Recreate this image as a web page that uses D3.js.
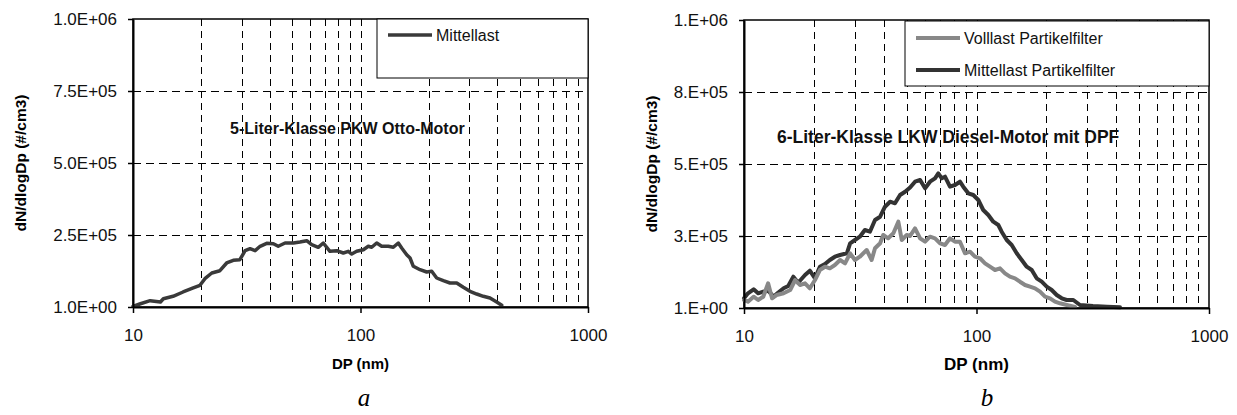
<!DOCTYPE html>
<html>
<head>
<meta charset="utf-8">
<script src="https://cdn.jsdelivr.net/npm/d3@7"></script>
<style>
  body { margin: 0; background: #fff; }
  svg { display: block; font-family: "Liberation Sans", Arial, sans-serif; }
</style>
</head>
<body>
<svg id="chart" width="1237" height="415"></svg>
<script>

    // panel a: 5-Liter PKW Otto, Mittellast (Dp in nm, dN/dlogDp in #/cm3)
    const dpA = [10.0, 10.7, 11.9, 13.2, 13.6, 15.0, 16.6, 18.4, 19.7, 20.7, 22.2, 24.1, 25.8, 27.6, 29.5,
        31.1, 32.7, 34.4, 36.2, 38.7, 41.4, 43.5, 46.6, 50.7, 54.2, 58.0, 61.0, 65.2, 68.6, 73.4, 78.6,
        84.0, 88.4, 91.5, 96.2, 102.9, 108.2, 112.0, 117.8, 123.9, 132.5, 139.4, 146.6, 151.7, 159.6,
        165.1, 170.7, 182.7, 195.4, 205.6, 216.2, 231.2, 247.4, 264.8, 283.1, 302.9, 324.2, 346.6,
        370.9, 396.9, 417.6];
    const mittellastA = [2400, 10400, 21900, 17400, 28800, 37200, 52100, 66000, 75300, 98300, 118000,
        126000, 152800, 162200, 164200, 195500, 202400, 195500, 210800, 221200, 219800, 210800, 222200,
        222200, 225700, 230200, 216300, 207300, 222200, 193400, 195500, 187500, 193400, 184000, 193400,
        199000, 210800, 207300, 222200, 210800, 210800, 207300, 222200, 204900, 181600, 170100, 141300,
        129500, 121500, 124000, 100700, 91300, 83300, 83300, 68400, 54500, 45100, 37200, 31300, 17400, 5900];

    // panel b: 6-Liter LKW Diesel mit DPF
    const dpBMittel = [10.0, 10.4, 11.0, 11.5, 12.1, 12.7, 13.4, 14.0, 14.8, 15.5, 16.3, 17.1, 18.3, 19.2,
        20.2, 21.2, 22.3, 23.4, 24.6, 25.9, 27.7, 28.6, 30.0, 31.5, 33.1, 34.8, 36.6, 38.5, 40.4, 42.5,
        44.6, 46.9, 49.3, 51.8, 54.4, 57.2, 60.1, 63.1, 66.3, 68.5, 70.9, 73.2, 76.9, 80.8, 84.9, 87.7,
        92.2, 96.9, 101.8, 106.9, 112.4, 118.1, 124.1, 128.3, 134.9, 141.7, 148.9, 156.5, 164.4, 172.8,
        181.5, 190.8, 200.4, 210.6, 221.3, 232.6, 244.3, 260.9, 278.7, 316.9, 364.1, 414.2];
    const mittellastB = [33700, 51000, 64900, 51000, 56600, 60100, 39200, 53100, 68400, 76400, 108700,
        87800, 114600, 129500, 103100, 143400, 152800, 166700, 178100, 184000, 189900, 224700, 236100,
        247600, 270800, 264900, 305600, 317000, 351700, 369100, 363500, 392400, 403800, 418400, 438500,
        444400, 415600, 438500, 450300, 467700, 450300, 455900, 421200, 427100, 438500, 421200, 398300,
        392400, 375000, 340300, 322900, 299700, 288200, 264900, 236100, 218800, 189900, 166700, 143400,
        131900, 103100, 91300, 74000, 62500, 45100, 33700, 27800, 27800, 10400, 6900, 4500, 2400];
    const dpBVoll = [10.0, 10.4, 11.0, 11.5, 12.1, 12.7, 13.2, 13.8, 14.8, 15.8, 16.6, 17.4, 18.3, 19.2,
        20.2, 21.2, 22.3, 23.4, 24.6, 25.9, 27.2, 28.6, 30.0, 31.5, 33.7, 35.4, 36.6, 38.5, 39.7, 41.7,
        43.9, 46.1, 47.7, 50.1, 51.8, 54.4, 57.2, 60.1, 63.1, 66.3, 69.7, 73.2, 76.9, 80.8, 84.9, 89.2,
        93.8, 98.5, 103.5, 108.8, 114.3, 120.1, 126.2, 132.6, 139.3, 146.4, 153.8, 161.7, 169.9, 178.5,
        187.6, 197.1, 207.1, 217.6, 228.6, 244.3, 265.3];
    const volllastB = [27800, 21900, 39200, 27800, 39200, 85800, 33700, 45100, 51000, 62500, 97200, 79900,
        85800, 68400, 97200, 131900, 143400, 137800, 149300, 166700, 155200, 189900, 166700, 178100,
        201400, 166700, 207300, 224700, 253500, 242000, 259400, 299700, 236100, 253500, 250000, 276700,
        242000, 230200, 247600, 242000, 224700, 218800, 242000, 230200, 230200, 189900, 195500, 178100,
        172600, 155200, 143400, 131900, 137800, 120500, 108700, 103100, 91300, 79900, 74000, 68400,
        56600, 39200, 33700, 21900, 16300, 10400, 3500];

    const yTicks = [0, 250000, 500000, 750000, 1000000];
    const yLabelsA = ["1.0E+00", "2.5E+05", "5.0E+05", "7.5E+05", "1.0E+06"];
    const yLabelsB = ["1.E+00", "3.E+05", "5.E+05", "8.E+05", "1.E+06"];
    const xTicks = [10, 100, 1000];

    const svg = d3.select("#chart");

    function drawPanel(p) {
        const x = d3.scaleLog().domain([10, 1000]).range([p.left, p.right]);
        const y = d3.scaleLinear().domain([0, 1e6]).range([p.bottom, p.top]);
        const g = svg.append("g");

        // dashed grid
        const xGrid = x.ticks().filter(function (d) { return d > 10 && d < 1000; });
        g.selectAll(".vgrid").data(xGrid).enter().append("line")
            .attr("x1", function (d) { return Math.round(x(d)) + 0.5; })
            .attr("x2", function (d) { return Math.round(x(d)) + 0.5; })
            .attr("y1", p.top).attr("y2", p.bottom)
            .attr("stroke", "#000").attr("stroke-width", 1).attr("stroke-dasharray", "7,5");
        g.selectAll(".hgrid").data(yTicks.slice(1, 4)).enter().append("line")
            .attr("x1", p.left).attr("x2", p.right)
            .attr("y1", function (d) { return Math.round(y(d)) + 0.5; })
            .attr("y2", function (d) { return Math.round(y(d)) + 0.5; })
            .attr("stroke", "#000").attr("stroke-width", 1).attr("stroke-dasharray", "8,5");

        g.append("rect").attr("x", p.left).attr("y", p.top)
            .attr("width", p.right - p.left).attr("height", p.bottom - p.top)
            .attr("fill", "none").attr("stroke", "#000").attr("stroke-width", 1.5);

        // annotation sits over the grid, no background
        g.append("text").attr("x", p.noteX).attr("y", p.noteY)
            .attr("font-size", p.noteSize).attr("font-weight", "bold").attr("fill", "#111")
            .text(p.note);

        const line = d3.line()
            .x(function (d) { return x(d[0]); })
            .y(function (d) { return y(d[1]); });

        p.series.forEach(function (s) {
            g.append("path").datum(d3.zip(s.dp, s.values))
                .attr("d", line).attr("fill", "none")
                .attr("stroke", s.color).attr("stroke-width", s.width)
                .attr("stroke-linejoin", "round").attr("stroke-linecap", "round");
        });

        const yAxis = g.append("g").attr("transform", "translate(" + p.left + ",0)")
            .call(d3.axisLeft(y).tickValues(yTicks)
                .tickFormat(function (d, i) { return p.yLabels[i]; })
                .tickSize(5).tickSizeOuter(0).tickPadding(11));
        const xAxis = g.append("g").attr("transform", "translate(0," + p.bottom + ")")
            .call(d3.axisBottom(x).tickValues(xTicks).tickFormat(d3.format("d"))
                .tickSize(6).tickSizeOuter(0).tickPadding(16));
        [yAxis, xAxis].forEach(function (a) {
            a.attr("font-family", null).attr("font-size", null);
            a.select(".domain").attr("stroke-width", 2);
            a.selectAll(".tick line").attr("stroke-width", 1.5);
            a.selectAll(".tick text").attr("fill", "#111").style("font-size", "17px");
        });

        g.append("text").attr("x", (p.left + p.right) / 2).attr("y", p.bottom + 62)
            .attr("text-anchor", "middle").attr("font-size", p.titleSize).attr("font-weight", "bold")
            .text("DP (nm)");
        g.append("text").attr("transform", "translate(" + p.yTitleX + "," + ((p.top + p.bottom) / 2) + ") rotate(-90)")
            .attr("text-anchor", "middle").attr("font-size", 15.5).attr("font-weight", "bold")
            .text("dN/dlogDp (#/cm3)");

        // legend box
        const lg = p.legend;
        g.append("rect").attr("x", lg.x).attr("y", lg.y).attr("width", lg.w).attr("height", lg.h)
            .attr("fill", "#fff").attr("stroke", "#000").attr("stroke-width", 1);
        p.series.slice().reverse().forEach(function (s, i) {
            const ly = lg.y + lg.first + i * lg.step;
            g.append("line").attr("x1", lg.x + 11).attr("x2", lg.x + 55)
                .attr("y1", ly).attr("y2", ly)
                .attr("stroke", s.color).attr("stroke-width", s.width);
            g.append("text").attr("x", lg.x + 59).attr("y", ly + 6)
                .attr("font-size", 16).attr("fill", "#111").text(s.name);
        });

        svg.append("text").attr("x", p.captionX).attr("y", 406)
            .attr("text-anchor", "middle").attr("font-family", "'Liberation Serif', 'Times New Roman', serif")
            .attr("font-style", "italic").attr("font-size", 25).text(p.caption);
    }

    drawPanel({
        left: 133, right: 588, top: 19, bottom: 307,
        yLabels: yLabelsA, yTitleX: 26, titleSize: 15,
        note: "5-Liter-Klasse PKW Otto-Motor", noteX: 230, noteY: 134, noteSize: 16,
        legend: { x: 377, y: 19, w: 211, h: 59, first: 16, step: 32 },
        series: [{ name: "Mittellast", dp: dpA, values: mittellastA, color: "#3a3a3a", width: 3.5 }],
        caption: "a", captionX: 364
    });

    drawPanel({
        left: 744, right: 1209, top: 20, bottom: 308,
        yLabels: yLabelsB, yTitleX: 657, titleSize: 17,
        note: "6-Liter-Klasse LKW Diesel-Motor mit DPF", noteX: 777, noteY: 143, noteSize: 17.5,
        legend: { x: 905, y: 21, w: 304, h: 65, first: 17, step: 32 },
        // drawn in this order so the dark curve sits on top; legend lists Volllast first
        series: [
            { name: "Mittellast Partikelfilter", dp: dpBMittel, values: mittellastB, color: "#333333", width: 4 },
            { name: "Volllast Partikelfilter", dp: dpBVoll, values: volllastB, color: "#888888", width: 4 }
        ],
        caption: "b", captionX: 987
    });

</script>
</body>
</html>
